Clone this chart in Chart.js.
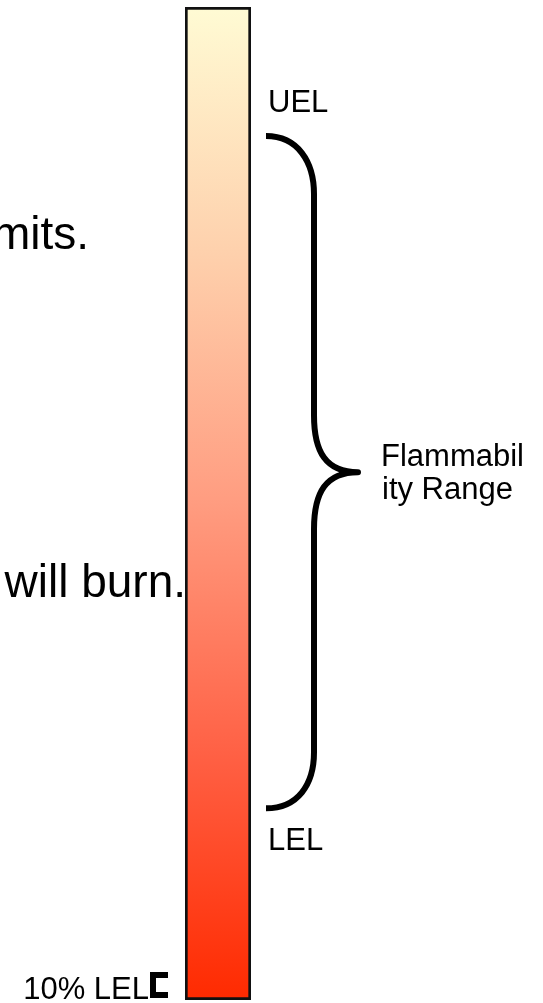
<!DOCTYPE html>
<html>
<head>
<meta charset="utf-8">
<script src="https://cdn.jsdelivr.net/npm/chart.js@4/dist/chart.umd.min.js"></script>
<style>
  html, body { margin: 0; padding: 0; background: #ffffff; }
  canvas { display: block; }
</style>
</head>
<body>
<canvas id="c" width="543" height="1003"></canvas>
<script>
// ---- data ----
const barCategories = ['Concentration'];
const barRange = [0, 100];                 // bottom / top of the gradient bar
const markerLabels = ['UEL', 'LEL', '10% LEL'];
const markerValues = [87, 19.3, 1.5];      // levels on the concentration scale
const rangeLabelLines = ['Flammabil', 'ity Range'];
const sideTexts = ['mits.', 'will burn.'];
const sideTextValues = [75.6, 40.6];
const gradientStops = [
  [0.00, '#FFFBD4'],
  [0.25, '#FED0AC'],
  [0.50, '#FF9C80'],
  [0.75, '#FF6145'],
  [1.00, '#FF2A00']
];

const FONT = '"Liberation Sans", Arial, Helvetica, sans-serif';

const annotate = {
  id: 'annotate',
  beforeDraw(chart) {
    const c = chart.ctx;
    c.save();
    c.fillStyle = '#ffffff';
    c.fillRect(0, 0, chart.width, chart.height);
    c.restore();
  },
  afterDatasetsDraw(chart) {
    const c = chart.ctx;
    const y = chart.scales.y;
    const el = chart.getDatasetMeta(0).data[0];
    const left = el.x - el.width / 2;
    const right = el.x + el.width / 2;
    const yU = y.getPixelForValue(markerValues[0]);
    const yL = y.getPixelForValue(markerValues[1]);
    const y10 = y.getPixelForValue(markerValues[2]);
    const yM = (yU + yL) / 2;

    c.save();
    // brace
    const xe = right + 15, xv = right + 63, xt = right + 107;
    c.strokeStyle = '#000';
    c.lineWidth = 6;
    c.lineCap = 'butt';
    c.lineJoin = 'round';
    c.beginPath();
    c.moveTo(xe, yU);
    c.bezierCurveTo(xe + 32, yU, xv, yU + 26, xv, yU + 58);
    c.lineTo(xv, yM - 57);
    c.bezierCurveTo(xv, yM - 20, xv + 12, yM, xt, yM);
    c.bezierCurveTo(xv + 12, yM, xv, yM + 20, xv, yM + 57);
    c.lineTo(xv, yL - 56);
    c.bezierCurveTo(xv, yL - 24, xe + 32, yL, xe, yL);
    c.stroke();

    // 10% LEL bracket
    c.lineJoin = 'miter';
    c.lineWidth = 6;
    c.beginPath();
    c.moveTo(left - 17, y10 - 10);
    c.lineTo(left - 32, y10 - 10);
    c.lineTo(left - 32, y10 + 10);
    c.lineTo(left - 17, y10 + 10);
    c.stroke();

    // labels
    c.fillStyle = '#000';
    c.textBaseline = 'alphabetic';
    c.font = '31px ' + FONT;
    c.textAlign = 'left';
    c.fillText(markerLabels[0], right + 17, yU - 24);
    c.fillText(markerLabels[1], right + 17, yL + 42);
    c.fillText(rangeLabelLines[0], right + 130, yM - 6);
    c.fillText(rangeLabelLines[1], right + 131, yM + 27);
    c.textAlign = 'right';
    c.fillText(markerLabels[2], left - 36, y10 + 14);

    // side sentence fragments
    c.font = '46px ' + FONT;
    c.textAlign = 'right';
    c.fillText(sideTexts[0], 89, y.getPixelForValue(sideTextValues[0]));
    c.fillText(sideTexts[1], left + 1, y.getPixelForValue(sideTextValues[1]));
    c.restore();
  }
};

new Chart(document.getElementById('c'), {
  type: 'bar',
  data: {
    labels: barCategories,
    datasets: [{
      data: [barRange],
      backgroundColor(ctx) {
        const ch = ctx.chart;
        const a = ch.chartArea;
        if (!a) return '#FF9C80';
        const g = ch.ctx.createLinearGradient(0, a.top, 0, a.bottom);
        gradientStops.forEach(s => g.addColorStop(s[0], s[1]));
        return g;
      },
      borderColor: '#111111',
      borderWidth: 3,
      borderSkipped: false,
      barPercentage: 1,
      categoryPercentage: 1
    }]
  },
  options: {
    responsive: false,
    animation: false,
    devicePixelRatio: 1,
    layout: { padding: { left: 185, right: 292, top: 7, bottom: 3 } },
    scales: {
      x: { display: false },
      y: { display: false, min: 0, max: 100 }
    },
    plugins: { legend: { display: false }, tooltip: { enabled: false } }
  },
  plugins: [annotate]
});
</script>
</body>
</html>
